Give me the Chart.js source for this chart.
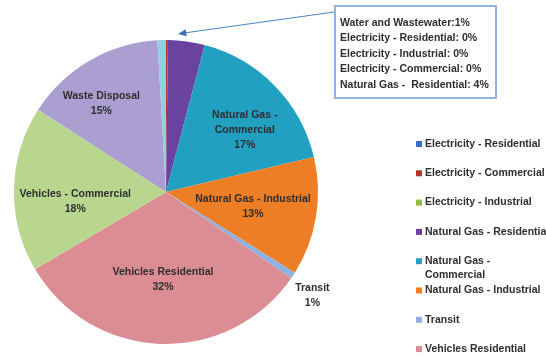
<!DOCTYPE html>
<html lang="en">
<head>
    <meta charset="UTF-8">
    <title>Emissions by Sector</title>
    <script src="https://cdn.jsdelivr.net/npm/chart.js"></script>
    <style>
        body {
            margin: 0;
            padding: 0;
            background: #ffffff;
        }

        #wrap {
            width: 546px;
            height: 360px;
            overflow: hidden;
        }
    </style>
</head>
<body>

    <div id="wrap">
        <canvas id="sectorChart" width="546" height="360"></canvas>
    </div>

    <script>
        // Share of emissions per sector (percent)
        const sectors = [
            'Electricity - Residential',
            'Electricity - Commercial',
            'Electricity - Industrial',
            'Natural Gas - Residential',
            'Natural Gas - Commercial',
            'Natural Gas - Industrial',
            'Transit',
            'Vehicles Residential',
            'Vehicles - Commercial',
            'Waste Disposal',
            'Water and Wastewater'
        ];
        const shares = [0, 0.2, 0, 3.9, 17.2, 12.6, 0.7, 31.9, 17.6, 15.0, 0.9];

        const sliceColors = [
            '#3c6fc2', '#b8322f', '#93bb4c', '#6a43a0', '#22a0c2', '#ee7e26',
            '#8fb1e2', '#dc8d93', '#b9d68e', '#ab9fd1', '#8fd0e2'
        ];

        // Slices that get a label on the pie, and how far out / how much turned
        const pieLabels = {
            4: { lines: ['Natural Gas -', 'Commercial'], frac: 0.66, turn: 6 },
            5: { lines: ['Natural Gas - Industrial'], frac: 0.58, turn: 0 },
            6: { lines: ['Transit'], frac: 1.18, turn: 2 },
            7: { lines: ['Vehicles Residential'], frac: 0.58, turn: 0 },
            8: { lines: ['Vehicles - Commercial'], frac: 0.6, turn: -7 },
            9: { lines: ['Waste Disposal'], frac: 0.72, turn: -6 }
        };

        // Small slices listed in the callout box: [index, text before the value]
        const calloutItems = [
            [10, 'Water and Wastewater:'],
            [0, 'Electricity - Residential: '],
            [2, 'Electricity - Industrial: '],
            [1, 'Electricity - Commercial: '],
            [3, 'Natural Gas -  Residential: ']
        ];

        const total = shares.reduce((a, b) => a + b, 0);
        const pct = i => Math.round(shares[i] * 100 / total) + '%';
        const FONT = 'bold 10.5px "Liberation Sans", Arial, sans-serif';
        const INK = '#2e2e2e';

        const labelPlugin = {
            id: 'sliceLabels',
            afterDatasetsDraw(chart) {
                const ctx = chart.ctx;
                const arcs = chart.getDatasetMeta(0).data;
                ctx.save();
                ctx.font = FONT;
                ctx.fillStyle = INK;
                ctx.textAlign = 'center';
                ctx.textBaseline = 'middle';
                Object.keys(pieLabels).forEach(k => {
                    const i = Number(k);
                    const cfg = pieLabels[i];
                    const arc = arcs[i];
                    const mid = (arc.startAngle + arc.endAngle) / 2 + cfg.turn * Math.PI / 180;
                    const d = arc.outerRadius * cfg.frac;
                    const lines = cfg.lines.concat([pct(i)]);
                    const x = arc.x + Math.cos(mid) * d;
                    const y0 = arc.y + Math.sin(mid) * d - (lines.length - 1) * 15 / 2;
                    lines.forEach((t, n) => ctx.fillText(t, x, y0 + n * 15));
                });
                ctx.restore();
            }
        };

        const calloutPlugin = {
            id: 'callout',
            afterDraw(chart) {
                const ctx = chart.ctx;
                ctx.save();
                // box
                ctx.strokeStyle = '#8db4e2';
                ctx.lineWidth = 2;
                ctx.strokeRect(335, 6, 161, 92);
                // text
                ctx.font = FONT;
                ctx.fillStyle = INK;
                ctx.textBaseline = 'middle';
                calloutItems.forEach(([i, text], n) => {
                    ctx.fillText(text + pct(i), 340, 23 + n * 15.5);
                });
                // pointer line + arrow head
                const x1 = 334, y1 = 12, x2 = 178, y2 = 34;
                ctx.strokeStyle = '#4f81bd';
                ctx.lineWidth = 1;
                ctx.beginPath();
                ctx.moveTo(x1, y1);
                ctx.lineTo(x2 + 6, y2 - 1);
                ctx.stroke();
                const ang = Math.atan2(y2 - y1, x2 - x1);
                ctx.fillStyle = '#3f72b5';
                ctx.beginPath();
                ctx.moveTo(x2, y2);
                ctx.lineTo(x2 - 9 * Math.cos(ang - 0.4), y2 - 9 * Math.sin(ang - 0.4));
                ctx.lineTo(x2 - 9 * Math.cos(ang + 0.4), y2 - 9 * Math.sin(ang + 0.4));
                ctx.closePath();
                ctx.fill();
                ctx.restore();
            }
        };

        // Legend drawn by hand so long names wrap and the list runs off the bottom
        const legendWrap = { 4: ['Natural Gas -', 'Commercial'] };
        const legendPlugin = {
            id: 'sideLegend',
            afterDraw(chart) {
                const ctx = chart.ctx;
                ctx.save();
                ctx.font = FONT;
                ctx.textBaseline = 'middle';
                sectors.forEach((name, i) => {
                    const y = 144 + i * 29.3;
                    ctx.fillStyle = sliceColors[i];
                    ctx.fillRect(416, y - 3, 6, 6);
                    ctx.fillStyle = INK;
                    const lines = legendWrap[i] || [name];
                    lines.forEach((t, n) => ctx.fillText(t, 425, y + n * 14));
                });
                ctx.restore();
            }
        };

        new Chart(document.getElementById('sectorChart').getContext('2d'), {
            type: 'pie',
            data: {
                labels: sectors,
                datasets: [{
                    data: shares,
                    backgroundColor: sliceColors,
                    borderWidth: 0
                }]
            },
            options: {
                responsive: false,
                animation: false,
                layout: {
                    padding: { left: 14, top: 40, right: 228, bottom: 16 }
                },
                plugins: {
                    legend: { display: false },
                    tooltip: { enabled: false }
                }
            },
            plugins: [labelPlugin, calloutPlugin, legendPlugin]
        });
    </script>

</body>
</html>
